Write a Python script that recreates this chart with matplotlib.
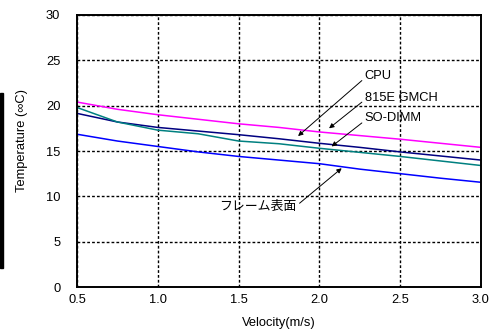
import matplotlib
matplotlib.use("Agg")
import matplotlib.pyplot as plt
from matplotlib.patches import Rectangle

plt.rcParams['font.family'] = ['Liberation Sans', 'Noto Sans CJK JP', 'DejaVu Sans']

velocity = [0.5, 0.75, 1.0, 1.25, 1.5, 1.75, 2.0, 2.25, 2.5, 2.75, 3.0]
cpu = [19.15, 18.2, 17.6, 17.2, 16.8, 16.35, 15.85, 15.4, 14.9, 14.45, 14.0]
gmch = [20.4, 19.6, 19.0, 18.5, 18.0, 17.6, 17.1, 16.7, 16.3, 15.85, 15.4]
sodimm = [19.8, 18.2, 17.3, 16.9, 16.1, 15.8, 15.3, 14.85, 14.4, 13.9, 13.4]
frame = [16.85, 16.1, 15.5, 14.9, 14.4, 14.0, 13.6, 13.0, 12.5, 12.0, 11.55]

xticks = [0.5, 1.0, 1.5, 2.0, 2.5, 3.0]
xticklabels = ['0.5', '1.0', '1.5', '2.0', '2.5', '3.0']
yticks = [0, 5, 10, 15, 20, 25, 30]

FS = 9.3

fig = plt.figure(figsize=(4.99, 3.34), dpi=100)
ax = fig.add_axes([0.1543, 0.1407, 0.8096, 0.8144])

ax.plot(velocity, gmch, color='#FF00FF', lw=1.1)
ax.plot(velocity, cpu, color='#000080', lw=1.1)
ax.plot(velocity, sodimm, color='#008080', lw=1.1)
ax.plot(velocity, frame, color='#0000FF', lw=1.1)

ax.set_xlim(0.5, 3.0)
ax.set_ylim(0, 30)
ax.set_xticks(xticks)
ax.set_xticklabels(xticklabels)
ax.set_yticks(yticks)
ax.tick_params(length=0, labelsize=FS)
ax.tick_params(axis='y', pad=12)
ax.tick_params(axis='x', pad=5)
ax.grid(True, color='black', linestyle=(0, (2, 1.5)), lw=1.0)
for s in ax.spines.values():
    s.set_linewidth(1.4)
    s.set_color('black')

ax.set_xlabel('Velocity(m/s)', fontsize=FS, labelpad=8)
fig.text(0.045, 0.58, 'Temperature (∞C)', rotation=90, fontsize=FS,
         ha='center', va='center')
fig.patches.append(Rectangle((0.0, (334 - 268) / 334), 3 / 499, (268 - 93) / 334,
                             transform=fig.transFigure, color='black'))

ap = dict(arrowstyle='-|>', color='black', lw=0.7, mutation_scale=7,
          shrinkA=0, shrinkB=0)
ax.annotate('CPU', xy=(1.868, 16.65), xytext=(2.28, 23.3), fontsize=FS,
            ha='left', va='center', arrowprops=dict(ap, relpos=(0, 0.3)))
ax.annotate('815E GMCH', xy=(2.06, 17.5), xytext=(2.28, 20.9), fontsize=FS,
            ha='left', va='center', arrowprops=dict(ap, relpos=(0, 0.3)))
ax.annotate('SO-DIMM', xy=(2.076, 15.5), xytext=(2.28, 18.6), fontsize=FS,
            ha='left', va='center', arrowprops=dict(ap, relpos=(0, 0.3)))
ax.annotate('フレーム表面', xy=(2.138, 13.1), xytext=(1.86, 8.85), fontsize=FS,
            ha='right', va='center', arrowprops=dict(ap, relpos=(1, 0.6)))

fig.savefig('out.png', dpi=100)
